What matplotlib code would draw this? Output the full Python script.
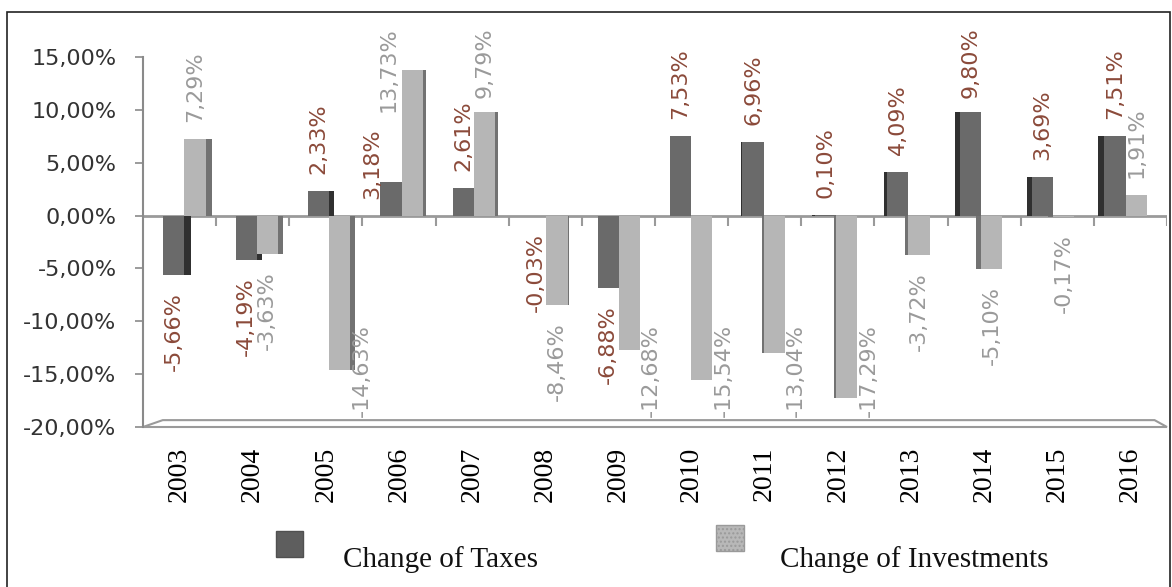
import numpy as np
import matplotlib
matplotlib.use('Agg')
import matplotlib.pyplot as plt
from matplotlib.patches import Rectangle, Polygon

years = ['2003', '2004', '2005', '2006', '2007', '2008', '2009',
         '2010', '2011', '2012', '2013', '2014', '2015', '2016']
taxes = [-5.66, -4.19, 2.33, 3.18, 2.61, -0.03, -6.88,
         7.53, 6.96, 0.10, 4.09, 9.80, 3.69, 7.51]
investments = [7.29, -3.63, -14.63, 13.73, 9.79, -8.46, -12.68,
               -15.54, -13.04, -17.29, -3.72, -5.10, -0.17, 1.91]

W, H = 1172, 587
px_per_unit = (427 - 57) / 35.0
px_per_cat = (1167 - 143) / 14.0
ytop = 15 + (57 - 25) / px_per_unit

fig = plt.figure(figsize=(W / 100, H / 100), dpi=100)
ax = fig.add_axes([143 / W, 1 - 427 / H, (1167 - 143) / W, (427 - 25) / H])
ax.set_xlim(-0.5, 13.5)
ax.set_ylim(-20, ytop)

# bars with a bit of fake 3D side face
idx = np.arange(len(years))
w = 0.29
shift = -0.01 * (idx - 6.5)
side = 0.0135 * np.abs(idx - 6.5)
tax_x = idx - w / 2 + shift
inv_x = idx + w / 2 + shift
left = idx < 6.5
tax_side_x = np.where(left, tax_x + w / 2 + side / 2, tax_x - w / 2 - side / 2)
inv_side_x = np.where(left, inv_x + w / 2 + side / 2, inv_x - w / 2 - side / 2)

ax.bar(tax_side_x, taxes, width=side, color='#303030', zorder=2)
ax.bar(inv_side_x, investments, width=side, color='#727272', zorder=2)
ax.bar(tax_x, taxes, width=w, color='#6a6a6a', zorder=3)
ax.bar(inv_x, investments, width=w, color='#b6b6b6', zorder=3)

# zero line with category ticks
ax.axhline(0, color='#9a9a9a', lw=2, zorder=1.5)
ax.vlines(np.arange(0.5, 14, 1), -10 / px_per_unit, 0, color='#9a9a9a', lw=1.5, zorder=1.5)

# floor
floor = Polygon([(-0.5, -20), (-0.23, -19.35), (13.33, -19.35), (13.5, -20)],
                closed=True, fill=False, edgecolor='#9a9a9a', lw=1.5, clip_on=False)
ax.add_patch(floor)

for s in ['top', 'right', 'bottom']:
    ax.spines[s].set_visible(False)
ax.spines['left'].set_bounds(-20, 15)
ax.spines['left'].set_color('#8a8a8a')
ax.spines['left'].set_linewidth(1.5)

yt = list(range(-20, 16, 5))
ax.set_yticks(yt)
ax.set_yticklabels([f"{v:.2f}".replace('.', ',') + '%' for v in yt])
ax.tick_params(axis='y', length=6, width=1.2, color='#8a8a8a', pad=13,
               labelsize=16, labelcolor='#333333')
ax.set_xticks(idx)
ax.set_xticklabels(years, rotation=90, fontfamily='Liberation Serif', fontsize=20)
ax.tick_params(axis='x', length=0, pad=14, labelcolor='#000000')

# data labels
fig.canvas.draw()
renderer = fig.canvas.get_renderer()
gap = 17 / px_per_unit
top_lim = 15 + (57 - 27) / px_per_unit
bot_lim = -20 + 10 / px_per_unit
placed = []


def place_labels(xs, vals, color):
    for x, v in zip(xs, vals):
        s = f"{v:.2f}".replace('.', ',') + '%'
        t = ax.text(x, 0, s, rotation=90, ha='center', va='bottom',
                    fontsize=16, color=color, zorder=5)
        ext = t.get_window_extent(renderer)
        L = ext.height / px_per_unit
        hw = ext.width / px_per_cat / 2
        if v >= 0:
            y0 = min(v + gap, top_lim - L)
            if y0 < v:
                x -= 0.32
        else:
            ytop_lab = max(v - gap, bot_lim + L)
            if ytop_lab > v:
                x += 0.3
            y0 = ytop_lab - L
        # push away from a label already sitting there
        for (px, phw, py0, pL) in placed:
            if abs(px - x) < phw + hw and y0 < py0 + pL and py0 < y0 + L:
                if v >= 0:
                    y0 = py0 - gap - L
                else:
                    y0 = py0 + pL + gap
                x -= 0.25
        t.set_position((x, y0))
        placed.append((x, hw, y0, L))


place_labels(inv_x, investments, '#9a9a9a')
place_labels(tax_x, taxes, '#8b4a3a')

# legend
fig.patches.append(Rectangle((276 / W, 1 - 557 / H), 27 / W, 26 / H, transform=fig.transFigure,
                             facecolor='#5e5e5e', edgecolor='#505050', lw=1))
fig.text(343 / W, 1 - 567 / H, 'Change of Taxes', va='baseline', ha='left',
         fontsize=21, family='Liberation Serif', color='#111111')
fig.patches.append(Rectangle((716 / W, 1 - 551 / H), 28 / W, 26 / H, transform=fig.transFigure,
                             facecolor='#b8b8b8', edgecolor='#9a9a9a', lw=1, hatch='....'))
fig.text(780 / W, 1 - 567 / H, 'Change of Investments', va='baseline', ha='left',
         fontsize=21, family='Liberation Serif', color='#111111')

# outer frame
fig.patches.append(Rectangle((7 / W, -0.05), (1170 - 7) / W, 1.05 - 12 / H,
                             transform=fig.transFigure, fill=False, edgecolor='#222222', lw=1.2))

fig.savefig('out.png', dpi=100)
